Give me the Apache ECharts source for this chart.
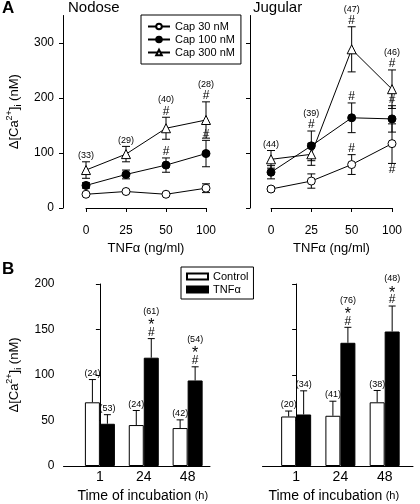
<!DOCTYPE html>
<html>
<head>
<meta charset="utf-8">
<script src="https://cdn.jsdelivr.net/npm/echarts@6/dist/echarts.min.js"></script>
<style>html,body{margin:0;padding:0;background:#fff}#c{width:420px;height:504px}</style>
</head>
<body>
<div id="c"></div>
<script>
// ---------- Panel A data ----------
const tnfCats = ['0', '25', '50', '100'];
const yTicksA = [0, 100, 200, 300];
const seriesNames = ['Cap 30 nM', 'Cap 100 nM', 'Cap 300 nM'];

const nod30 = [25, 30, 25, 36];
const nod30Err = [3, 3, 3, 8];
const nod100 = [41, 61, 78, 99];
const nod100Err = [5, 8, 13, 24];
const nod300 = [69, 98, 145, 160];
const nod300Err = [15, 14, 20, 33];

const jug30 = [34.5, 49, 79, 117];
const jug30Err = [4, 13, 18, 36];
const jug100 = [65, 113, 164, 162];
const jug100Err = [12, 27, 27, 24];
const jug300 = [88.5, 97.6, 288.5, 216];
const jug300Err = [16, 20, 41, 35];

// annotations (stacked top-to-bottom)
const nod30Above = [[], [], [], []];
const nod100Above = [[], [], ['#'], ['#']];
const nod300Above = [['(33)'], ['(29)'], ['(40)', '#'], ['(28)', '#']];
const jug30Above = [[], [], ['#'], []];
const jug30Below = [[], [], [], ['#']];
const jug100Above = [[], ['(39)', '#'], ['#'], ['#']];
const jug300Above = [['(44)'], [], ['(47)', '#'], ['(46)', '#']];

// ---------- Panel B data ----------
const times = ['1', '24', '48'];
const yTicksB = [0, 50, 100, 150, 200];
const barNames = ['Control', 'TNF\u03b1'];

const nodCtrl = [70, 45, 41.7];
const nodCtrlErr = [25, 16, 9];
const nodTnf = [46.4, 119, 94];
const nodTnfErr = [10, 21, 15];
const jugCtrl = [54.4, 55.2, 70];
const jugCtrlErr = [6, 16, 13];
const jugTnf = [56.6, 135.4, 147.8];
const jugTnfErr = [26, 17, 28];

const nodCtrlMarks = [['(24)'], ['(24)'], ['(42)']];
const nodTnfMarks = [['(53)'], ['(61)', '*', '#'], ['(54)', '*', '#']];
const jugCtrlMarks = [['(20)'], ['(41)'], ['(38)']];
const jugTnfMarks = [['(34)'], ['(76)', '*', '#'], ['(48)', '*', '#']];

// ---------- helpers ----------
const FONT = 'Liberation Sans, Arial, Helvetica, sans-serif';
const BAR_W = 15;
// per-glyph-type text styles: font size, line slot height, glyph vertical nudge
const markStyle = {
  n: { fs: 9, h: 11.5, dy: 0 },
  h: { fs: 12, h: 11, dy: 0 },
  s: { fs: 16, h: 10, dy: 3.6 }
};
function markType(s) { return s === '#' ? 'h' : (s === '*' ? 's' : 'n'); }
// stack lines upward from y (dir=-1) or downward (dir=+1)
function markTexts(lines, x, y, dir) {
  const out = [];
  let cur = y;
  const seq = dir < 0 ? lines.slice().reverse() : lines.slice();
  seq.forEach(s => {
    const st = markStyle[markType(s)];
    const c = cur + dir * st.h / 2;
    out.push({ type: 'text', z2: 10, style: { text: s, x: x, y: c + st.dy, align: 'center', verticalAlign: 'middle', fontSize: st.fs, fontFamily: FONT, fill: '#000' } });
    cur += dir * st.h;
  });
  return out;
}
function ln(x1, y1, x2, y2) {
  return { type: 'line', shape: { x1, y1, x2, y2 }, style: { stroke: '#000', lineWidth: 1 } };
}

function errSeriesA(vals, errs, above, below, gi) {
  return {
    type: 'custom', xAxisIndex: gi, yAxisIndex: gi, z: 1, silent: true,
    encode: { x: 0, y: 1 },
    data: vals.map((v, i) => [i, v, errs[i]]),
    renderItem: function (params, api) {
      const i = api.value(0), m = api.value(1), e = api.value(2);
      const t = api.coord([i, m + e]);
      const b = api.coord([i, m - e]);
      const cap = 4;
      let ch = [ln(t[0], t[1], b[0], b[1]), ln(t[0] - cap, t[1], t[0] + cap, t[1]), ln(b[0] - cap, b[1], b[0] + cap, b[1])];
      const a = above[params.dataIndex];
      if (a && a.length) ch = ch.concat(markTexts(a, t[0], t[1] - 0.5, -1));
      const bl = below && below[params.dataIndex];
      if (bl && bl.length) ch = ch.concat(markTexts(bl, b[0], b[1] + 0.5, 1));
      return { type: 'group', children: ch };
    }
  };
}

const symbolStyles = [
  { symbol: 'circle', symbolSize: 8, itemStyle: { color: '#fff', borderColor: '#000', borderWidth: 1 } },
  { symbol: 'circle', symbolSize: 8, itemStyle: { color: '#000', borderColor: '#000', borderWidth: 1 } },
  { symbol: 'triangle', symbolSize: 9, itemStyle: { color: '#fff', borderColor: '#000', borderWidth: 1 } }
];
function lineSeries(name, vals, k, gi) {
  return Object.assign({
    type: 'line', name: name, xAxisIndex: gi, yAxisIndex: gi, z: 3,
    data: vals, lineStyle: { color: '#000', width: 1 }, showAllSymbol: true, animation: false
  }, symbolStyles[k]);
}

function barSeries(name, vals, k, gi) {
  return {
    type: 'bar', name: name, xAxisIndex: gi, yAxisIndex: gi, z: 2,
    data: vals.map((v, i) => [i, v]), barWidth: BAR_W, barGap: '0%',
    itemStyle: k === 0 ? { color: '#fff', borderColor: '#000', borderWidth: 1 } : { color: '#000', borderColor: '#000', borderWidth: 1 }
  };
}
function errSeriesB(vals, errs, marks, side, gi) {
  return {
    type: 'custom', xAxisIndex: gi, yAxisIndex: gi, z: 3, silent: true,
    encode: { x: 0, y: 1 },
    data: vals.map((v, i) => [i, v, errs[i]]),
    renderItem: function (params, api) {
      const i = api.value(0), m = api.value(1), e = api.value(2);
      const t = api.coord([i, m + e]);
      const b = api.coord([i, m]);
      const dx = side * BAR_W / 2;
      const x = t[0] + dx;
      const cap = 3.5;
      let ch = [ln(x, t[1], x, b[1]), ln(x - cap, t[1], x + cap, t[1])];
      const a = marks[params.dataIndex];
      if (a && a.length) ch = ch.concat(markTexts(a, x, t[1] - 0.5, -1));
      return { type: 'group', children: ch };
    }
  };
}

const axisLineStyle = { show: true, lineStyle: { color: '#000', width: 1 } };
const yNameRich = {
  m: { fontSize: 13, fontFamily: FONT, color: '#000', lineHeight: 18 },
  u: { fontSize: 9, fontFamily: FONT, color: '#000', verticalAlign: 'top', lineHeight: 18 },
  d: { fontSize: 9, fontFamily: FONT, color: '#000', verticalAlign: 'bottom', lineHeight: 18 }
};
const yName = '{m|\u0394[Ca}{u|2+}{m|]}{d|i}{m| (nM)}';

function yAxisA(gi, showLabels, offset) {
  return {
    type: 'value', gridIndex: gi, min: 0, max: 350, offset: offset,
    axisLine: axisLineStyle,
    axisTick: { show: true, length: 4, customValues: yTicksA, lineStyle: { color: '#000' } },
    axisLabel: { show: showLabels, customValues: yTicksA, color: '#000', fontSize: 12, fontFamily: FONT, margin: 9 },
    splitLine: { show: false },
    name: showLabels ? yName : '', nameLocation: 'middle', nameRotate: 90, nameGap: 40,
    nameTextStyle: { rich: yNameRich }
  };
}
function xAxisA(gi) {
  return {
    type: 'category', gridIndex: gi, data: tnfCats, boundaryGap: false, offset: 9,
    axisLine: axisLineStyle,
    axisTick: { show: true, length: 4, lineStyle: { color: '#000' } },
    axisLabel: { color: '#000', fontSize: 12, fontFamily: FONT, margin: 8, interval: 0 },
    name: 'TNF\u03b1 (ng/ml)', nameLocation: 'middle', nameGap: 25,
    nameTextStyle: { color: '#000', fontSize: 13, fontFamily: FONT }
  };
}
function yAxisB(gi, showLabels) {
  return {
    type: 'value', gridIndex: gi, min: 0, max: 200, interval: 50,
    axisLine: axisLineStyle,
    axisTick: { show: true, length: 4, lineStyle: { color: '#000' } },
    axisLabel: { show: showLabels, color: '#000', fontSize: 12, fontFamily: FONT, margin: 9 },
    splitLine: { show: false },
    name: showLabels ? yName : '', nameLocation: 'middle', nameRotate: 90, nameGap: 40,
    nameTextStyle: { rich: yNameRich }
  };
}
function xAxisB(gi, mn, mx, pad) {
  return {
    type: 'value', gridIndex: gi, min: mn, max: mx,
    axisLine: axisLineStyle,
    axisTick: { show: false },
    splitLine: { show: false },
    axisLabel: { customValues: [0, 1, 2], formatter: v => times[Math.round(v)], color: '#000', fontSize: 14, fontFamily: FONT, margin: 4 },
    name: '{t|Time of incubation} {h|(h)}', nameLocation: 'middle', nameGap: 23,
    nameTextStyle: {
      padding: pad,
      rich: {
        t: { fontSize: 14, fontFamily: FONT, color: '#000' },
        h: { fontSize: 11, fontFamily: FONT, color: '#000' }
      }
    }
  };
}

const chart = echarts.init(document.getElementById('c'), null, { renderer: 'canvas' });
chart.setOption({
  animation: false,
  backgroundColor: '#fff',
  textStyle: { fontFamily: FONT, color: '#000' },
  title: [
    { text: 'A', left: 2, top: 0, padding: 0, textStyle: { fontSize: 17, fontWeight: 'bold', color: '#000', fontFamily: FONT } },
    { text: 'Nodose', left: 68, top: 0, padding: 0, textStyle: { fontSize: 15, fontWeight: 'normal', color: '#000', fontFamily: FONT } },
    { text: 'Jugular', left: 253, top: 0, padding: 0, textStyle: { fontSize: 15, fontWeight: 'normal', color: '#000', fontFamily: FONT } },
    { text: 'B', left: 2, top: 261, padding: 0, textStyle: { fontSize: 17, fontWeight: 'bold', color: '#000', fontFamily: FONT } }
  ],
  legend: [
    {
      left: 141, top: 15, orient: 'vertical', data: seriesNames,
      borderColor: '#000', borderWidth: 1, padding: [6, 6, 6, 6],
      itemWidth: 22, itemHeight: 7, itemGap: 2,
      textStyle: { fontSize: 11, color: '#000', fontFamily: FONT }
    },
    {
      left: 181, top: 267, orient: 'vertical', data: barNames,
      borderColor: '#000', borderWidth: 1, padding: [4, 5, 4, 5],
      itemWidth: 21, itemHeight: 6, itemGap: 2, icon: 'rect',
      textStyle: { fontSize: 11, color: '#000', fontFamily: FONT }
    }
  ],
  grid: [
    { left: 86, top: 15.5, width: 120, height: 192.5 },
    { left: 271, top: 15.5, width: 121, height: 192.5 },
    { left: 63.5, top: 284, width: 146.5, height: 183.5 },
    { left: 262.5, top: 284, width: 150.5, height: 183 }
  ],
  xAxis: [xAxisA(0), xAxisA(1), xAxisB(2, -0.83, 2.51, [0, 0, 0, 12]), xAxisB(3, -0.76, 2.64, [0, 8, 0, 0])],
  yAxis: [yAxisA(0, true, 23), yAxisA(1, false, 21), yAxisB(2, true), yAxisB(3, false)],
  series: [
    errSeriesA(nod30, nod30Err, nod30Above, null, 0),
    errSeriesA(nod100, nod100Err, nod100Above, null, 0),
    errSeriesA(nod300, nod300Err, nod300Above, null, 0),
    lineSeries(seriesNames[0], nod30, 0, 0),
    lineSeries(seriesNames[1], nod100, 1, 0),
    lineSeries(seriesNames[2], nod300, 2, 0),
    errSeriesA(jug30, jug30Err, jug30Above, jug30Below, 1),
    errSeriesA(jug100, jug100Err, jug100Above, null, 1),
    errSeriesA(jug300, jug300Err, jug300Above, null, 1),
    lineSeries(seriesNames[0], jug30, 0, 1),
    lineSeries(seriesNames[1], jug100, 1, 1),
    lineSeries(seriesNames[2], jug300, 2, 1),
    barSeries(barNames[0], nodCtrl, 0, 2),
    barSeries(barNames[1], nodTnf, 1, 2),
    errSeriesB(nodCtrl, nodCtrlErr, nodCtrlMarks, -1, 2),
    errSeriesB(nodTnf, nodTnfErr, nodTnfMarks, 1, 2),
    barSeries(barNames[0], jugCtrl, 0, 3),
    barSeries(barNames[1], jugTnf, 1, 3),
    errSeriesB(jugCtrl, jugCtrlErr, jugCtrlMarks, -1, 3),
    errSeriesB(jugTnf, jugTnfErr, jugTnfMarks, 1, 3)
  ]
});
</script>
</body>
</html>
